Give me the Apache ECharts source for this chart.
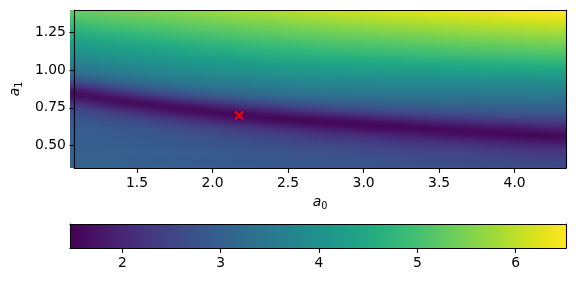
<!DOCTYPE html>
<html><head><meta charset="utf-8">
<script src="https://cdn.jsdelivr.net/npm/echarts@6/dist/echarts.min.js"></script>
<style>
html,body{margin:0;padding:0;background:#fff;overflow:hidden}
#heat{position:absolute;left:-3000px;top:0;width:576px;height:238px}
#c{position:absolute;left:0;top:0;width:576px;height:282px}
</style>
</head><body>
<div id="heat"></div>
<div id="c"></div>
<script>
// a0 (x) cell centres and a1 (y) cell centres
const a0Centers = [1.153,1.289,1.424,1.560,1.695,1.831,1.967,2.102,2.238,2.373,2.509,2.644,2.780,2.916,3.051,3.187,3.322,3.458,3.594,3.729,3.865,4.000,4.136,4.272];
const a1Centers = [0.3675,0.4025,0.4375,0.4725,0.5075,0.5425,0.5775,0.6125,0.6475,0.6825,0.7175,0.7525,0.7875,0.8225,0.8575,0.8925,0.9275,0.9625,0.9975,1.0325,1.0675,1.1025,1.1375,1.1725,1.2075,1.2425,1.2775,1.3125,1.3475,1.3825];
// loss values: one array per a0 column, listed from bottom (a1=0.37) to top (a1=1.38)
const lossCol00 = [3.06,3.05,3.04,3.03,3.01,3.00,2.97,2.94,2.89,2.79,2.64,2.44,2.11,1.66,1.61,2.15,2.63,3.06,3.38,3.59,3.77,3.94,4.09,4.25,4.42,4.58,4.76,4.93,5.10,5.26];
const lossCol01 = [3.04,3.04,3.02,3.00,2.99,2.96,2.94,2.89,2.81,2.68,2.51,2.23,1.81,1.53,1.95,2.45,2.91,3.26,3.51,3.70,3.87,4.02,4.18,4.34,4.50,4.67,4.85,5.02,5.18,5.34];
const lossCol02 = [3.02,3.02,2.99,2.98,2.96,2.94,2.89,2.82,2.72,2.56,2.34,1.98,1.58,1.70,2.25,2.72,3.12,3.40,3.61,3.78,3.95,4.10,4.25,4.41,4.58,4.75,4.92,5.09,5.24,5.40];
const lossCol03 = [3.01,2.99,2.97,2.96,2.93,2.90,2.84,2.74,2.61,2.44,2.14,1.73,1.56,2.01,2.49,2.94,3.28,3.50,3.70,3.86,4.01,4.16,4.32,4.48,4.65,4.82,4.99,5.15,5.31,5.46];
const lossCol04 = [2.99,2.97,2.95,2.93,2.90,2.85,2.77,2.68,2.51,2.28,1.94,1.56,1.72,2.26,2.72,3.10,3.39,3.60,3.77,3.93,4.09,4.23,4.38,4.55,4.72,4.89,5.05,5.20,5.36,5.51];
const lossCol05 = [2.97,2.95,2.93,2.90,2.86,2.81,2.71,2.58,2.41,2.12,1.72,1.54,1.97,2.46,2.89,3.23,3.47,3.67,3.84,3.99,4.15,4.30,4.46,4.63,4.80,4.96,5.12,5.27,5.43,5.59];
const lossCol06 = [2.95,2.93,2.90,2.87,2.82,2.75,2.65,2.49,2.28,1.96,1.57,1.64,2.18,2.64,3.03,3.33,3.55,3.73,3.90,4.05,4.21,4.36,4.53,4.70,4.87,5.03,5.19,5.34,5.50,5.66];
const lossCol07 = [2.92,2.91,2.88,2.83,2.78,2.69,2.56,2.41,2.15,1.78,1.49,1.86,2.37,2.79,3.14,3.40,3.61,3.79,3.95,4.10,4.26,4.43,4.60,4.77,4.93,5.09,5.25,5.40,5.56,5.72];
const lossCol08 = [2.90,2.88,2.84,2.80,2.73,2.62,2.48,2.30,2.02,1.61,1.57,2.05,2.52,2.91,3.23,3.47,3.67,3.84,4.00,4.16,4.33,4.49,4.66,4.83,5.00,5.15,5.30,5.46,5.62,5.78];
const lossCol09 = [2.88,2.86,2.82,2.76,2.67,2.57,2.41,2.19,1.88,1.53,1.69,2.21,2.65,3.02,3.31,3.53,3.71,3.89,4.05,4.21,4.38,4.55,4.72,4.89,5.05,5.20,5.36,5.51,5.68,5.83];
const lossCol10 = [2.86,2.82,2.78,2.71,2.63,2.49,2.33,2.08,1.73,1.49,1.86,2.36,2.76,3.11,3.37,3.59,3.77,3.94,4.10,4.27,4.44,4.61,4.78,4.94,5.10,5.26,5.41,5.57,5.73,5.89];
const lossCol11 = [2.84,2.80,2.75,2.68,2.57,2.43,2.25,1.98,1.60,1.56,2.02,2.47,2.86,3.17,3.41,3.61,3.79,3.96,4.13,4.30,4.47,4.64,4.81,4.99,5.15,5.30,5.46,5.62,5.78,5.95];
const lossCol12 = [2.81,2.78,2.72,2.64,2.53,2.37,2.17,1.87,1.53,1.67,2.17,2.58,2.94,3.22,3.46,3.64,3.81,3.98,4.15,4.33,4.51,4.68,4.86,5.02,5.19,5.35,5.51,5.67,5.83,6.00];
const lossCol13 = [2.79,2.74,2.69,2.60,2.48,2.33,2.08,1.76,1.48,1.80,2.28,2.67,3.00,3.26,3.48,3.66,3.84,4.00,4.18,4.36,4.53,4.71,4.90,5.07,5.23,5.39,5.56,5.72,5.88,6.05];
const lossCol14 = [2.77,2.72,2.65,2.56,2.43,2.27,2.01,1.65,1.53,1.92,2.37,2.74,3.04,3.29,3.50,3.68,3.85,4.01,4.19,4.38,4.56,4.74,4.93,5.10,5.27,5.43,5.60,5.76,5.92,6.10];
const lossCol15 = [2.74,2.69,2.62,2.52,2.38,2.20,1.93,1.57,1.59,2.03,2.44,2.80,3.08,3.32,3.51,3.69,3.86,4.04,4.21,4.40,4.59,4.79,4.96,5.14,5.30,5.47,5.64,5.80,5.97,6.14];
const lossCol16 = [2.72,2.66,2.58,2.48,2.33,2.12,1.84,1.52,1.69,2.13,2.52,2.85,3.11,3.34,3.52,3.70,3.87,4.05,4.24,4.43,4.62,4.82,5.00,5.17,5.34,5.51,5.68,5.84,6.01,6.19];
const lossCol17 = [2.69,2.64,2.55,2.43,2.28,2.06,1.73,1.49,1.79,2.24,2.59,2.89,3.14,3.36,3.54,3.72,3.88,4.07,4.26,4.46,4.66,4.85,5.03,5.21,5.38,5.55,5.72,5.88,6.06,6.23];
const lossCol18 = [2.67,2.61,2.51,2.40,2.24,1.99,1.65,1.54,1.89,2.31,2.65,2.93,3.17,3.37,3.55,3.72,3.90,4.09,4.28,4.48,4.68,4.89,5.07,5.25,5.43,5.59,5.76,5.92,6.10,6.27];
const lossCol19 = [2.64,2.58,2.49,2.36,2.18,1.93,1.58,1.58,1.97,2.36,2.68,2.95,3.18,3.37,3.55,3.72,3.91,4.10,4.29,4.50,4.71,4.91,5.10,5.28,5.46,5.63,5.79,5.96,6.13,6.31];
const lossCol20 = [2.62,2.55,2.45,2.32,2.13,1.85,1.54,1.64,2.05,2.41,2.72,2.98,3.20,3.38,3.56,3.74,3.92,4.11,4.32,4.53,4.75,4.95,5.13,5.32,5.50,5.67,5.83,6.00,6.17,6.35];
const lossCol21 = [2.60,2.52,2.42,2.28,2.07,1.77,1.51,1.71,2.13,2.47,2.75,2.99,3.21,3.39,3.56,3.74,3.94,4.13,4.34,4.56,4.78,4.98,5.16,5.36,5.53,5.70,5.86,6.03,6.21,6.40];
const lossCol22 = [2.57,2.50,2.37,2.24,2.02,1.70,1.51,1.79,2.19,2.50,2.77,3.01,3.22,3.40,3.57,3.75,3.95,4.15,4.37,4.59,4.81,5.01,5.20,5.39,5.56,5.73,5.89,6.07,6.25,6.43];
const lossCol23 = [2.55,2.46,2.34,2.19,1.95,1.63,1.57,1.86,2.24,2.54,2.80,3.02,3.22,3.40,3.57,3.76,3.97,4.17,4.39,4.62,4.85,5.04,5.23,5.42,5.59,5.76,5.93,6.11,6.29,6.47];
const lossColumns = [lossCol00,lossCol01,lossCol02,lossCol03,lossCol04,lossCol05,lossCol06,lossCol07,lossCol08,lossCol09,lossCol10,lossCol11,lossCol12,lossCol13,lossCol14,lossCol15,lossCol16,lossCol17,lossCol18,lossCol19,lossCol20,lossCol21,lossCol22,lossCol23];
// best-fit marker
const bestA0 = [2.176];
const bestA1 = [0.699];
// axes
const xRange = [1.085, 4.34];
const yRange = [0.35, 1.40];
const xTicks = [1.5, 2.0, 2.5, 3.0, 3.5, 4.0];
const yTicks = [0.50, 0.75, 1.00, 1.25];
const cbRange = [1.468, 6.512];
const cbTicks = [2, 3, 4, 5, 6];
const viridis = ['#440154','#471365','#482475','#463480','#414487','#3b528b','#355f8d','#2f6c8e','#2a788e','#25848e','#21918c','#1e9c89','#22a884','#2fb47c','#44bf70','#5ec962','#7ad151','#9bd93c','#bddf26','#dfe318','#fde725'];

const cells = [];
lossColumns.forEach((col, i) => col.forEach((v, j) => cells.push([a0Centers[i], a1Centers[j], v])));
const halfW = (a0Centers[1] - a0Centers[0]) / 2;
const halfH = (a1Centers[1] - a1Centers[0]) / 2;

// plot rectangle
const PL = 70, PT = 10, PW = 496, PH = 158;

// ---- 1) the cells, drawn by ECharts through its value axes (off-screen chart) ----
const PAD = 40;
const heatChart = echarts.init(document.getElementById('heat'), null, {renderer: 'canvas', devicePixelRatio: 1});
heatChart.setOption({
  animation: false,
  grid: {show: false, left: PAD, top: PAD, width: PW, height: PH},
  visualMap: {type: 'continuous', show: false, seriesIndex: 0, dimension: 2,
    min: cbRange[0], max: cbRange[1], inRange: {color: viridis}},
  xAxis: {type: 'value', min: xRange[0], max: xRange[1], show: false,
    axisLine: {show: false}, axisTick: {show: false}, axisLabel: {show: false}, splitLine: {show: false}},
  yAxis: {type: 'value', min: yRange[0], max: yRange[1], show: false,
    axisLine: {show: false}, axisTick: {show: false}, axisLabel: {show: false}, splitLine: {show: false}},
  series: [{type: 'custom', clip: true, silent: true, data: cells, encode: {x: 0, y: 1},
    renderItem: (params, api) => {
      const x = api.value(0), y = api.value(1);
      const p0 = api.coord([x - halfW, y + halfH]);
      const p1 = api.coord([x + halfW, y - halfH]);
      return {type: 'rect',
        shape: {x: p0[0], y: p0[1], width: p1[0] - p0[0] + 0.6, height: p1[1] - p0[1] + 0.6},
        style: {fill: api.visual('color')}};
    }}]
});

// ---- 2) smooth the rendered cells (like an interpolated image) ----
const src = document.querySelector('#heat canvas');
const W = src.width, H = src.height;
const ext = document.createElement('canvas');
ext.width = W; ext.height = H;
const ectx = ext.getContext('2d');
ectx.imageSmoothingEnabled = false;
ectx.drawImage(src, 0, 0);
const L = PAD + 1, R = PAD + PW - 2, T = PAD + 1, B = PAD + PH - 2;
ectx.drawImage(src, L, 0, 1, H, 0, 0, L, H);               // repeat edge column to the left
ectx.drawImage(src, R, 0, 1, H, R + 1, 0, W - R - 1, H);   // and to the right
ectx.drawImage(ext, 0, T, W, 1, 0, 0, W, T);               // repeat edge row upwards
ectx.drawImage(ext, 0, B, W, 1, 0, B + 1, W, H - B - 1);   // and downwards

const SX = 4;
const small = document.createElement('canvas');
small.width = Math.round(W / SX); small.height = H;
const sctx = small.getContext('2d');
sctx.imageSmoothingEnabled = true; sctx.imageSmoothingQuality = 'high';
sctx.filter = 'blur(2px)';
sctx.drawImage(ext, 0, 0, W, H, 0, 0, small.width, small.height);
const smooth = document.createElement('canvas');
smooth.width = PW; smooth.height = PH;
const octx = smooth.getContext('2d');
octx.imageSmoothingEnabled = true; octx.imageSmoothingQuality = 'high';
octx.drawImage(small, PAD / SX, PAD, PW / SX, PH, 0, 0, PW, PH);

// ---- 3) visible chart: image, axes, marker and colour bar ----
const FONT = "'DejaVu Sans', sans-serif";
const FS = 13.9;
const lbl = {color: '#000', fontSize: FS, fontFamily: FONT};
const line = {show: true, onZero: false, lineStyle: {color: '#000', width: 1.1}};
const tick = vals => ({show: true, length: 4.9, lineStyle: {color: '#000', width: 1.1}, customValues: vals});
const none = {show: false};
const nameStyle = {rich: {
  i: {fontStyle: 'italic', fontSize: FS, fontFamily: FONT, color: '#000', lineHeight: 16, verticalAlign: 'top'},
  s: {fontSize: 9.7, fontFamily: FONT, color: '#000', lineHeight: 8, verticalAlign: 'bottom'}
}};

const chart = echarts.init(document.getElementById('c'), null, {renderer: 'canvas', devicePixelRatio: 1});
chart.setOption({
  animation: false,
  backgroundColor: '#fff',
  graphic: [{type: 'image', z: 1, silent: true,
    style: {image: smooth, x: PL, y: PT, width: PW, height: PH}}],
  grid: [
    {left: PL, top: PT, width: PW, height: PH},
    {left: 70, top: 224, width: 496, height: 24}
  ],
  xAxis: [
    {type: 'value', gridIndex: 0, min: xRange[0], max: xRange[1], position: 'bottom', z: 10,
      axisLine: line, splitLine: none, axisTick: tick(xTicks),
      axisLabel: Object.assign({customValues: xTicks, formatter: v => v.toFixed(1), margin: 8.5}, lbl),
      name: '{i|a}{s|0}', nameLocation: 'middle', nameGap: 27, nameTextStyle: nameStyle},
    {type: 'value', gridIndex: 0, min: xRange[0], max: xRange[1], position: 'top', z: 10,
      axisLine: line, splitLine: none, axisTick: none, axisLabel: none},
    {type: 'value', gridIndex: 1, min: cbRange[0], max: cbRange[1], position: 'bottom', z: 10,
      axisLine: line, splitLine: none, axisTick: tick(cbTicks),
      axisLabel: Object.assign({customValues: cbTicks, formatter: v => String(v), margin: 8.5}, lbl)},
    {type: 'value', gridIndex: 1, min: cbRange[0], max: cbRange[1], position: 'top', z: 10,
      axisLine: line, splitLine: none, axisTick: none, axisLabel: none}
  ],
  yAxis: [
    {type: 'value', gridIndex: 0, min: yRange[0], max: yRange[1], position: 'left', z: 10,
      axisLine: line, splitLine: none, axisTick: tick(yTicks),
      axisLabel: Object.assign({customValues: yTicks, formatter: v => v.toFixed(2), margin: 8.5}, lbl),
      name: '{i|a}{s|1}', nameLocation: 'middle', nameGap: 44, nameRotate: 90, nameTextStyle: nameStyle},
    {type: 'value', gridIndex: 0, min: yRange[0], max: yRange[1], position: 'right', z: 10,
      axisLine: line, splitLine: none, axisTick: none, axisLabel: none},
    {type: 'value', gridIndex: 1, min: 0, max: 1, position: 'left', z: 10,
      axisLine: line, splitLine: none, axisTick: none, axisLabel: none},
    {type: 'value', gridIndex: 1, min: 0, max: 1, position: 'right', z: 10,
      axisLine: line, splitLine: none, axisTick: none, axisLabel: none}
  ],
  series: [
    {type: 'custom', xAxisIndex: 0, yAxisIndex: 0, z: 5, silent: true,
      data: bestA0.map((v, k) => [v, bestA1[k]]), encode: {x: 0, y: 1},
      renderItem: (params, api) => {
        const c = api.coord([api.value(0), api.value(1)]);
        const s = 4;
        return {type: 'group', children: [
          {type: 'line', shape: {x1: c[0] - s, y1: c[1] - s, x2: c[0] + s, y2: c[1] + s}, style: {stroke: '#ff0000', lineWidth: 2}},
          {type: 'line', shape: {x1: c[0] - s, y1: c[1] + s, x2: c[0] + s, y2: c[1] - s}, style: {stroke: '#ff0000', lineWidth: 2}}
        ]};
      }},
    {type: 'custom', xAxisIndex: 2, yAxisIndex: 2, silent: true,
      data: [[cbRange[0], cbRange[1]]], encode: {x: [0, 1]},
      renderItem: (params, api) => {
        const p0 = api.coord([api.value(0), 1]);
        const p1 = api.coord([api.value(1), 0]);
        return {type: 'rect',
          shape: {x: p0[0], y: p0[1], width: p1[0] - p0[0], height: p1[1] - p0[1]},
          style: {fill: new echarts.graphic.LinearGradient(0, 0, 1, 0,
            viridis.map((c, k) => ({offset: k / (viridis.length - 1), color: c})))}};
      }}
  ]
});
</script></body></html>
